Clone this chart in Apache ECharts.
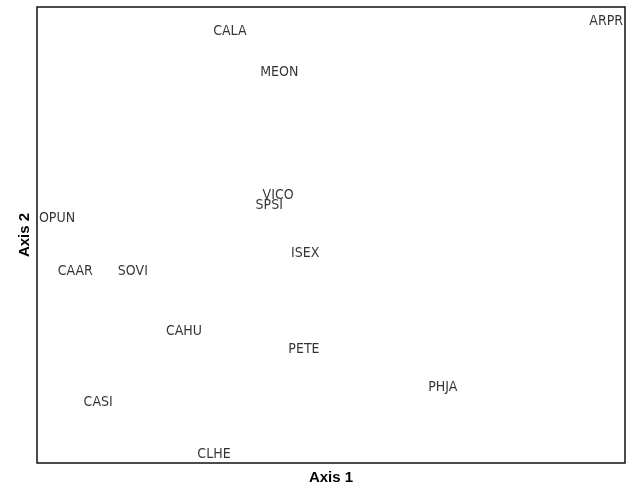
<!DOCTYPE html>
<html>
<head>
<meta charset="utf-8">
<style type="text/css">
html, body{margin: 0; padding: 0; background: #fff}
#chart{width: 627px; height: 490px}
</style>
<script src="https://cdn.jsdelivr.net/npm/echarts@6/dist/echarts.min.js"></script>
</head>
<body>
<div id="chart"></div>
<script type="text/javascript">
// species codes and their ordination scores
var codes  = ['CALA', 'MEON', 'VICO', 'SPSI', 'OPUN', 'ARPR', 'ISEX', 'CAAR', 'SOVI', 'CAHU', 'PETE', 'CASI', 'CLHE', 'PHJA'];
var axis1  = [32.8, 41.2, 41.0, 39.5, 3.4, 96.8, 45.6, 6.5, 16.3, 25.0, 45.4, 10.4, 30.1, 69.0];
var axis2  = [94.6, 85.7, 58.6, 56.5, 53.6, 96.8, 46.0, 42.1, 42.1, 28.8, 24.9, 13.3, 1.9, 16.6];

var points = [];
for (var i = 0; i < codes.length; i++) {
    points.push([axis1[i], axis2[i], codes[i]]);
}

var chart = echarts.init(document.getElementById('chart'));
var hidden = {
    axisLine: {show: false},
    axisTick: {show: false},
    axisLabel: {show: false},
    splitLine: {show: false}
};
var nameFont = {
    fontFamily: "'Liberation Sans', Arial, sans-serif",
    fontWeight: 'bold',
    fontSize: 15,
    color: '#000'
};
option = {
    animation: false,
    grid: {
        left: 37,
        right: 2,
        top: 7,
        bottom: 24,
        show: true,
        borderColor: '#111',
        borderWidth: 1.5,
        backgroundColor: '#fff'
    },
    xAxis: Object.assign({
        type: 'value',
        min: 0,
        max: 100,
        name: 'Axis 1',
        nameLocation: 'middle',
        nameGap: 7,
        nameTextStyle: Object.assign({verticalAlign: 'top'}, nameFont)
    }, hidden),
    yAxis: Object.assign({
        type: 'value',
        min: 0,
        max: 100,
        name: 'Axis 2',
        nameLocation: 'middle',
        nameGap: 5,
        nameTextStyle: nameFont
    }, hidden),
    series: [
        {
            type: 'scatter',
            symbolSize: 0,
            data: points,
            label: {
                show: true,
                position: 'inside',
                formatter: function (p) { return p.value[2]; },
                fontFamily: "'Liberation Sans Narrow', 'DejaVu Sans Condensed', 'Arial Narrow', sans-serif",
                fontSize: 14,
                color: '#000'
            },
            labelLayout: {hideOverlap: false}
        }
    ]
};
chart.setOption(option, true);
</script>
</body>
</html>
